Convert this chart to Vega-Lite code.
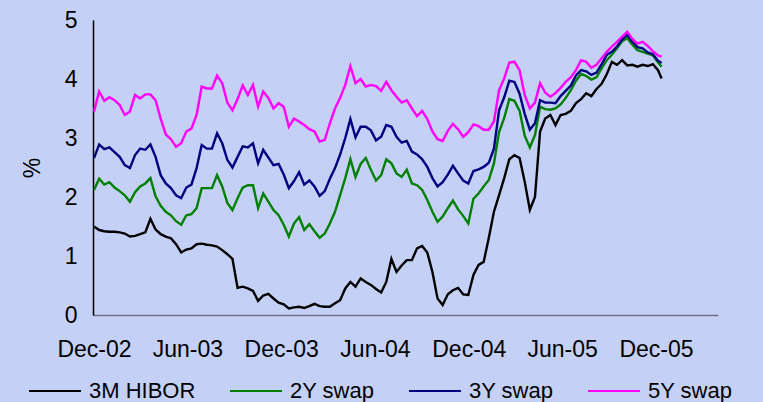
{
  "$schema": "https://vega.github.io/schema/vega-lite/v6.json",
  "width": 625,
  "height": 295,
  "autosize": {"type": "none"},
  "padding": {"left": 93, "top": 20, "right": 45, "bottom": 87},
  "background": "#C5D0F7",
  "config": {
    "view": {"stroke": null},
    "font": "Liberation Sans",
    "axis": {"grid": false, "ticks": false, "labelFontSize": 23, "labelColor": "#000000", "titleFontSize": 23, "titleFontWeight": "normal", "titleColor": "#000000", "labelFont": "Liberation Sans", "titleFont": "Liberation Sans"},
    "legend": {"labelFont": "Liberation Sans"}
  },
  "data": {"values": [
    {"date":"2002-12-01","3M HIBOR":1.50,"2Y swap":2.12,"3Y swap":2.66,"5Y swap":3.45},
    {"date":"2002-12-11","3M HIBOR":1.44,"2Y swap":2.31,"3Y swap":2.89,"5Y swap":3.79},
    {"date":"2002-12-21","3M HIBOR":1.42,"2Y swap":2.21,"3Y swap":2.81,"5Y swap":3.63},
    {"date":"2002-12-31","3M HIBOR":1.41,"2Y swap":2.25,"3Y swap":2.84,"5Y swap":3.69},
    {"date":"2003-01-10","3M HIBOR":1.41,"2Y swap":2.16,"3Y swap":2.76,"5Y swap":3.64},
    {"date":"2003-01-20","3M HIBOR":1.40,"2Y swap":2.10,"3Y swap":2.68,"5Y swap":3.56},
    {"date":"2003-01-30","3M HIBOR":1.38,"2Y swap":2.03,"3Y swap":2.54,"5Y swap":3.39},
    {"date":"2003-02-09","3M HIBOR":1.33,"2Y swap":1.92,"3Y swap":2.49,"5Y swap":3.45},
    {"date":"2003-02-19","3M HIBOR":1.34,"2Y swap":2.08,"3Y swap":2.71,"5Y swap":3.73},
    {"date":"2003-03-01","3M HIBOR":1.37,"2Y swap":2.18,"3Y swap":2.82,"5Y swap":3.67},
    {"date":"2003-03-11","3M HIBOR":1.40,"2Y swap":2.23,"3Y swap":2.80,"5Y swap":3.74},
    {"date":"2003-03-21","3M HIBOR":1.63,"2Y swap":2.32,"3Y swap":2.89,"5Y swap":3.74},
    {"date":"2003-03-31","3M HIBOR":1.45,"2Y swap":2.01,"3Y swap":2.68,"5Y swap":3.64},
    {"date":"2003-04-10","3M HIBOR":1.37,"2Y swap":1.85,"3Y swap":2.37,"5Y swap":3.33},
    {"date":"2003-04-20","3M HIBOR":1.33,"2Y swap":1.75,"3Y swap":2.23,"5Y swap":3.06},
    {"date":"2003-04-30","3M HIBOR":1.30,"2Y swap":1.69,"3Y swap":2.15,"5Y swap":2.98},
    {"date":"2003-05-10","3M HIBOR":1.20,"2Y swap":1.59,"3Y swap":2.03,"5Y swap":2.85},
    {"date":"2003-05-20","3M HIBOR":1.06,"2Y swap":1.53,"3Y swap":1.98,"5Y swap":2.91},
    {"date":"2003-05-30","3M HIBOR":1.11,"2Y swap":1.69,"3Y swap":2.16,"5Y swap":3.11},
    {"date":"2003-06-09","3M HIBOR":1.13,"2Y swap":1.71,"3Y swap":2.21,"5Y swap":3.16},
    {"date":"2003-06-19","3M HIBOR":1.20,"2Y swap":1.81,"3Y swap":2.49,"5Y swap":3.39},
    {"date":"2003-06-29","3M HIBOR":1.21,"2Y swap":2.15,"3Y swap":2.88,"5Y swap":3.87},
    {"date":"2003-07-09","3M HIBOR":1.19,"2Y swap":2.15,"3Y swap":2.82,"5Y swap":3.84},
    {"date":"2003-07-19","3M HIBOR":1.18,"2Y swap":2.15,"3Y swap":2.82,"5Y swap":3.84},
    {"date":"2003-07-29","3M HIBOR":1.16,"2Y swap":2.37,"3Y swap":3.08,"5Y swap":4.06},
    {"date":"2003-08-08","3M HIBOR":1.10,"2Y swap":2.18,"3Y swap":2.91,"5Y swap":3.93},
    {"date":"2003-08-18","3M HIBOR":1.03,"2Y swap":1.90,"3Y swap":2.63,"5Y swap":3.60},
    {"date":"2003-08-28","3M HIBOR":0.95,"2Y swap":1.78,"3Y swap":2.50,"5Y swap":3.47},
    {"date":"2003-09-07","3M HIBOR":0.46,"2Y swap":1.98,"3Y swap":2.68,"5Y swap":3.66},
    {"date":"2003-09-17","3M HIBOR":0.48,"2Y swap":2.16,"3Y swap":2.86,"5Y swap":3.89},
    {"date":"2003-09-27","3M HIBOR":0.45,"2Y swap":2.20,"3Y swap":2.84,"5Y swap":3.73},
    {"date":"2003-10-07","3M HIBOR":0.41,"2Y swap":2.20,"3Y swap":2.91,"5Y swap":3.90},
    {"date":"2003-10-17","3M HIBOR":0.24,"2Y swap":1.81,"3Y swap":2.57,"5Y swap":3.53},
    {"date":"2003-10-27","3M HIBOR":0.33,"2Y swap":2.06,"3Y swap":2.80,"5Y swap":3.79},
    {"date":"2003-11-06","3M HIBOR":0.36,"2Y swap":1.92,"3Y swap":2.67,"5Y swap":3.68},
    {"date":"2003-11-16","3M HIBOR":0.28,"2Y swap":1.78,"3Y swap":2.54,"5Y swap":3.50},
    {"date":"2003-11-26","3M HIBOR":0.21,"2Y swap":1.69,"3Y swap":2.56,"5Y swap":3.59},
    {"date":"2003-12-06","3M HIBOR":0.18,"2Y swap":1.53,"3Y swap":2.38,"5Y swap":3.53},
    {"date":"2003-12-16","3M HIBOR":0.11,"2Y swap":1.33,"3Y swap":2.15,"5Y swap":3.19},
    {"date":"2003-12-26","3M HIBOR":0.13,"2Y swap":1.55,"3Y swap":2.27,"5Y swap":3.33},
    {"date":"2004-01-05","3M HIBOR":0.14,"2Y swap":1.66,"3Y swap":2.42,"5Y swap":3.28},
    {"date":"2004-01-15","3M HIBOR":0.12,"2Y swap":1.44,"3Y swap":2.21,"5Y swap":3.22},
    {"date":"2004-01-25","3M HIBOR":0.15,"2Y swap":1.54,"3Y swap":2.28,"5Y swap":3.15},
    {"date":"2004-02-04","3M HIBOR":0.19,"2Y swap":1.42,"3Y swap":2.18,"5Y swap":3.11},
    {"date":"2004-02-14","3M HIBOR":0.15,"2Y swap":1.31,"3Y swap":2.02,"5Y swap":2.94},
    {"date":"2004-02-24","3M HIBOR":0.14,"2Y swap":1.38,"3Y swap":2.10,"5Y swap":2.97},
    {"date":"2004-03-05","3M HIBOR":0.14,"2Y swap":1.55,"3Y swap":2.31,"5Y swap":3.25},
    {"date":"2004-03-15","3M HIBOR":0.20,"2Y swap":1.75,"3Y swap":2.49,"5Y swap":3.50},
    {"date":"2004-03-25","3M HIBOR":0.25,"2Y swap":2.03,"3Y swap":2.72,"5Y swap":3.68},
    {"date":"2004-04-04","3M HIBOR":0.45,"2Y swap":2.32,"3Y swap":3.00,"5Y swap":3.90},
    {"date":"2004-04-14","3M HIBOR":0.56,"2Y swap":2.64,"3Y swap":3.32,"5Y swap":4.22},
    {"date":"2004-04-24","3M HIBOR":0.48,"2Y swap":2.34,"3Y swap":3.01,"5Y swap":3.93},
    {"date":"2004-05-04","3M HIBOR":0.62,"2Y swap":2.56,"3Y swap":3.19,"5Y swap":4.00},
    {"date":"2004-05-14","3M HIBOR":0.56,"2Y swap":2.66,"3Y swap":3.19,"5Y swap":3.87},
    {"date":"2004-05-24","3M HIBOR":0.51,"2Y swap":2.46,"3Y swap":3.13,"5Y swap":3.90},
    {"date":"2004-06-03","3M HIBOR":0.44,"2Y swap":2.28,"3Y swap":2.96,"5Y swap":3.88},
    {"date":"2004-06-13","3M HIBOR":0.38,"2Y swap":2.37,"3Y swap":3.02,"5Y swap":3.80},
    {"date":"2004-06-23","3M HIBOR":0.56,"2Y swap":2.64,"3Y swap":3.22,"5Y swap":3.95},
    {"date":"2004-07-03","3M HIBOR":0.95,"2Y swap":2.57,"3Y swap":3.19,"5Y swap":3.81},
    {"date":"2004-07-13","3M HIBOR":0.73,"2Y swap":2.40,"3Y swap":3.02,"5Y swap":3.70},
    {"date":"2004-07-23","3M HIBOR":0.84,"2Y swap":2.34,"3Y swap":2.92,"5Y swap":3.60},
    {"date":"2004-08-02","3M HIBOR":0.93,"2Y swap":2.46,"3Y swap":2.95,"5Y swap":3.64},
    {"date":"2004-08-12","3M HIBOR":0.93,"2Y swap":2.23,"3Y swap":2.77,"5Y swap":3.50},
    {"date":"2004-08-22","3M HIBOR":1.13,"2Y swap":2.20,"3Y swap":2.72,"5Y swap":3.37},
    {"date":"2004-09-01","3M HIBOR":1.17,"2Y swap":2.12,"3Y swap":2.64,"5Y swap":3.46},
    {"date":"2004-09-11","3M HIBOR":1.06,"2Y swap":1.95,"3Y swap":2.51,"5Y swap":3.32},
    {"date":"2004-09-21","3M HIBOR":0.73,"2Y swap":1.75,"3Y swap":2.32,"5Y swap":3.11},
    {"date":"2004-10-01","3M HIBOR":0.28,"2Y swap":1.58,"3Y swap":2.18,"5Y swap":2.98},
    {"date":"2004-10-11","3M HIBOR":0.17,"2Y swap":1.67,"3Y swap":2.25,"5Y swap":2.95},
    {"date":"2004-10-21","3M HIBOR":0.35,"2Y swap":1.81,"3Y swap":2.38,"5Y swap":3.12},
    {"date":"2004-10-31","3M HIBOR":0.42,"2Y swap":1.94,"3Y swap":2.53,"5Y swap":3.24},
    {"date":"2004-11-10","3M HIBOR":0.46,"2Y swap":1.79,"3Y swap":2.40,"5Y swap":3.15},
    {"date":"2004-11-20","3M HIBOR":0.35,"2Y swap":1.68,"3Y swap":2.28,"5Y swap":3.02},
    {"date":"2004-11-30","3M HIBOR":0.34,"2Y swap":1.55,"3Y swap":2.23,"5Y swap":3.10},
    {"date":"2004-12-10","3M HIBOR":0.68,"2Y swap":1.97,"3Y swap":2.44,"5Y swap":3.23},
    {"date":"2004-12-20","3M HIBOR":0.85,"2Y swap":2.06,"3Y swap":2.47,"5Y swap":3.20},
    {"date":"2004-12-30","3M HIBOR":0.90,"2Y swap":2.18,"3Y swap":2.51,"5Y swap":3.14},
    {"date":"2005-01-09","3M HIBOR":1.31,"2Y swap":2.29,"3Y swap":2.58,"5Y swap":3.14},
    {"date":"2005-01-19","3M HIBOR":1.75,"2Y swap":2.57,"3Y swap":2.82,"5Y swap":3.28},
    {"date":"2005-01-29","3M HIBOR":2.03,"2Y swap":3.10,"3Y swap":3.47,"5Y swap":3.81},
    {"date":"2005-02-08","3M HIBOR":2.32,"2Y swap":3.34,"3Y swap":3.69,"5Y swap":4.01},
    {"date":"2005-02-18","3M HIBOR":2.64,"2Y swap":3.66,"3Y swap":3.97,"5Y swap":4.28},
    {"date":"2005-02-28","3M HIBOR":2.71,"2Y swap":3.63,"3Y swap":3.95,"5Y swap":4.29},
    {"date":"2005-03-10","3M HIBOR":2.66,"2Y swap":3.46,"3Y swap":3.75,"5Y swap":4.15},
    {"date":"2005-03-20","3M HIBOR":2.26,"2Y swap":3.04,"3Y swap":3.41,"5Y swap":3.73},
    {"date":"2005-03-30","3M HIBOR":1.78,"2Y swap":2.84,"3Y swap":3.14,"5Y swap":3.50},
    {"date":"2005-04-09","3M HIBOR":2.00,"2Y swap":3.05,"3Y swap":3.25,"5Y swap":3.60},
    {"date":"2005-04-19","3M HIBOR":3.11,"2Y swap":3.53,"3Y swap":3.64,"5Y swap":3.93},
    {"date":"2005-04-29","3M HIBOR":3.33,"2Y swap":3.49,"3Y swap":3.60,"5Y swap":3.77},
    {"date":"2005-05-09","3M HIBOR":3.39,"2Y swap":3.48,"3Y swap":3.60,"5Y swap":3.70},
    {"date":"2005-05-19","3M HIBOR":3.22,"2Y swap":3.50,"3Y swap":3.59,"5Y swap":3.76},
    {"date":"2005-05-29","3M HIBOR":3.39,"2Y swap":3.57,"3Y swap":3.71,"5Y swap":3.85},
    {"date":"2005-06-08","3M HIBOR":3.41,"2Y swap":3.68,"3Y swap":3.80,"5Y swap":3.95},
    {"date":"2005-06-18","3M HIBOR":3.46,"2Y swap":3.81,"3Y swap":3.89,"5Y swap":4.03},
    {"date":"2005-06-28","3M HIBOR":3.59,"2Y swap":3.97,"3Y swap":4.06,"5Y swap":4.15},
    {"date":"2005-07-08","3M HIBOR":3.66,"2Y swap":4.09,"3Y swap":4.15,"5Y swap":4.32},
    {"date":"2005-07-18","3M HIBOR":3.76,"2Y swap":4.05,"3Y swap":4.13,"5Y swap":4.29},
    {"date":"2005-07-28","3M HIBOR":3.71,"2Y swap":3.99,"3Y swap":4.07,"5Y swap":4.19},
    {"date":"2005-08-07","3M HIBOR":3.83,"2Y swap":4.03,"3Y swap":4.11,"5Y swap":4.24},
    {"date":"2005-08-17","3M HIBOR":3.92,"2Y swap":4.18,"3Y swap":4.25,"5Y swap":4.35},
    {"date":"2005-08-27","3M HIBOR":4.08,"2Y swap":4.32,"3Y swap":4.41,"5Y swap":4.46},
    {"date":"2005-09-06","3M HIBOR":4.29,"2Y swap":4.41,"3Y swap":4.46,"5Y swap":4.55},
    {"date":"2005-09-16","3M HIBOR":4.24,"2Y swap":4.52,"3Y swap":4.55,"5Y swap":4.63},
    {"date":"2005-09-26","3M HIBOR":4.32,"2Y swap":4.64,"3Y swap":4.67,"5Y swap":4.72},
    {"date":"2005-10-06","3M HIBOR":4.23,"2Y swap":4.69,"3Y swap":4.75,"5Y swap":4.80},
    {"date":"2005-10-16","3M HIBOR":4.24,"2Y swap":4.58,"3Y swap":4.63,"5Y swap":4.68},
    {"date":"2005-10-26","3M HIBOR":4.21,"2Y swap":4.49,"3Y swap":4.54,"5Y swap":4.60},
    {"date":"2005-11-05","3M HIBOR":4.24,"2Y swap":4.46,"3Y swap":4.52,"5Y swap":4.63},
    {"date":"2005-11-15","3M HIBOR":4.22,"2Y swap":4.43,"3Y swap":4.45,"5Y swap":4.56},
    {"date":"2005-11-25","3M HIBOR":4.25,"2Y swap":4.40,"3Y swap":4.42,"5Y swap":4.47},
    {"date":"2005-12-05","3M HIBOR":4.15,"2Y swap":4.28,"3Y swap":4.31,"5Y swap":4.40},
    {"date":"2005-12-12","3M HIBOR":4.01,"2Y swap":4.21,"3Y swap":4.27,"5Y swap":4.38}
  ]},
  "transform": [{"fold": ["3M HIBOR", "2Y swap", "3Y swap", "5Y swap"], "as": ["series", "value"]}],
  "mark": {"type": "line", "strokeWidth": 2.4, "clip": true},
  "encoding": {
    "x": {
      "field": "date", "type": "temporal",
      "scale": {"domain": [{"year": 2002, "month": 11, "date": 29}, {"year": 2006, "month": 4, "date": 1}]},
      "axis": {
        "title": null, "format": "%b-%y", "labelFlush": false, "labelOverlap": false,
        "values": [{"year": 2002, "month": 12, "date": 1}, {"year": 2003, "month": 6, "date": 1}, {"year": 2003, "month": 12, "date": 1}, {"year": 2004, "month": 6, "date": 1}, {"year": 2004, "month": 12, "date": 1}, {"year": 2005, "month": 6, "date": 1}, {"year": 2005, "month": 12, "date": 1}],
        "domainColor": "#707080", "domainWidth": 1.5, "labelPadding": 23
      }
    },
    "y": {
      "field": "value", "type": "quantitative",
      "scale": {"domain": [0, 5]},
      "axis": {"values": [0, 1, 2, 3, 4, 5], "title": "%", "titlePadding": 20, "domainColor": "#000000", "domainWidth": 1.5, "labelPadding": 16}
    },
    "color": {
      "field": "series", "type": "nominal",
      "scale": {"domain": ["3M HIBOR", "2Y swap", "3Y swap", "5Y swap"], "range": ["#000000", "#008000", "#000080", "#FF00FF"]},
      "legend": {"orient": "none", "legendX": -65, "legendY": 344, "direction": "horizontal", "title": null, "symbolType": "stroke", "symbolSize": 2704, "symbolStrokeWidth": 2, "labelFontSize": 22, "labelColor": "#000000", "labelOffset": 7, "columnPadding": 30, "padding": 0, "labelLimit": 300}
    }
  }
}
